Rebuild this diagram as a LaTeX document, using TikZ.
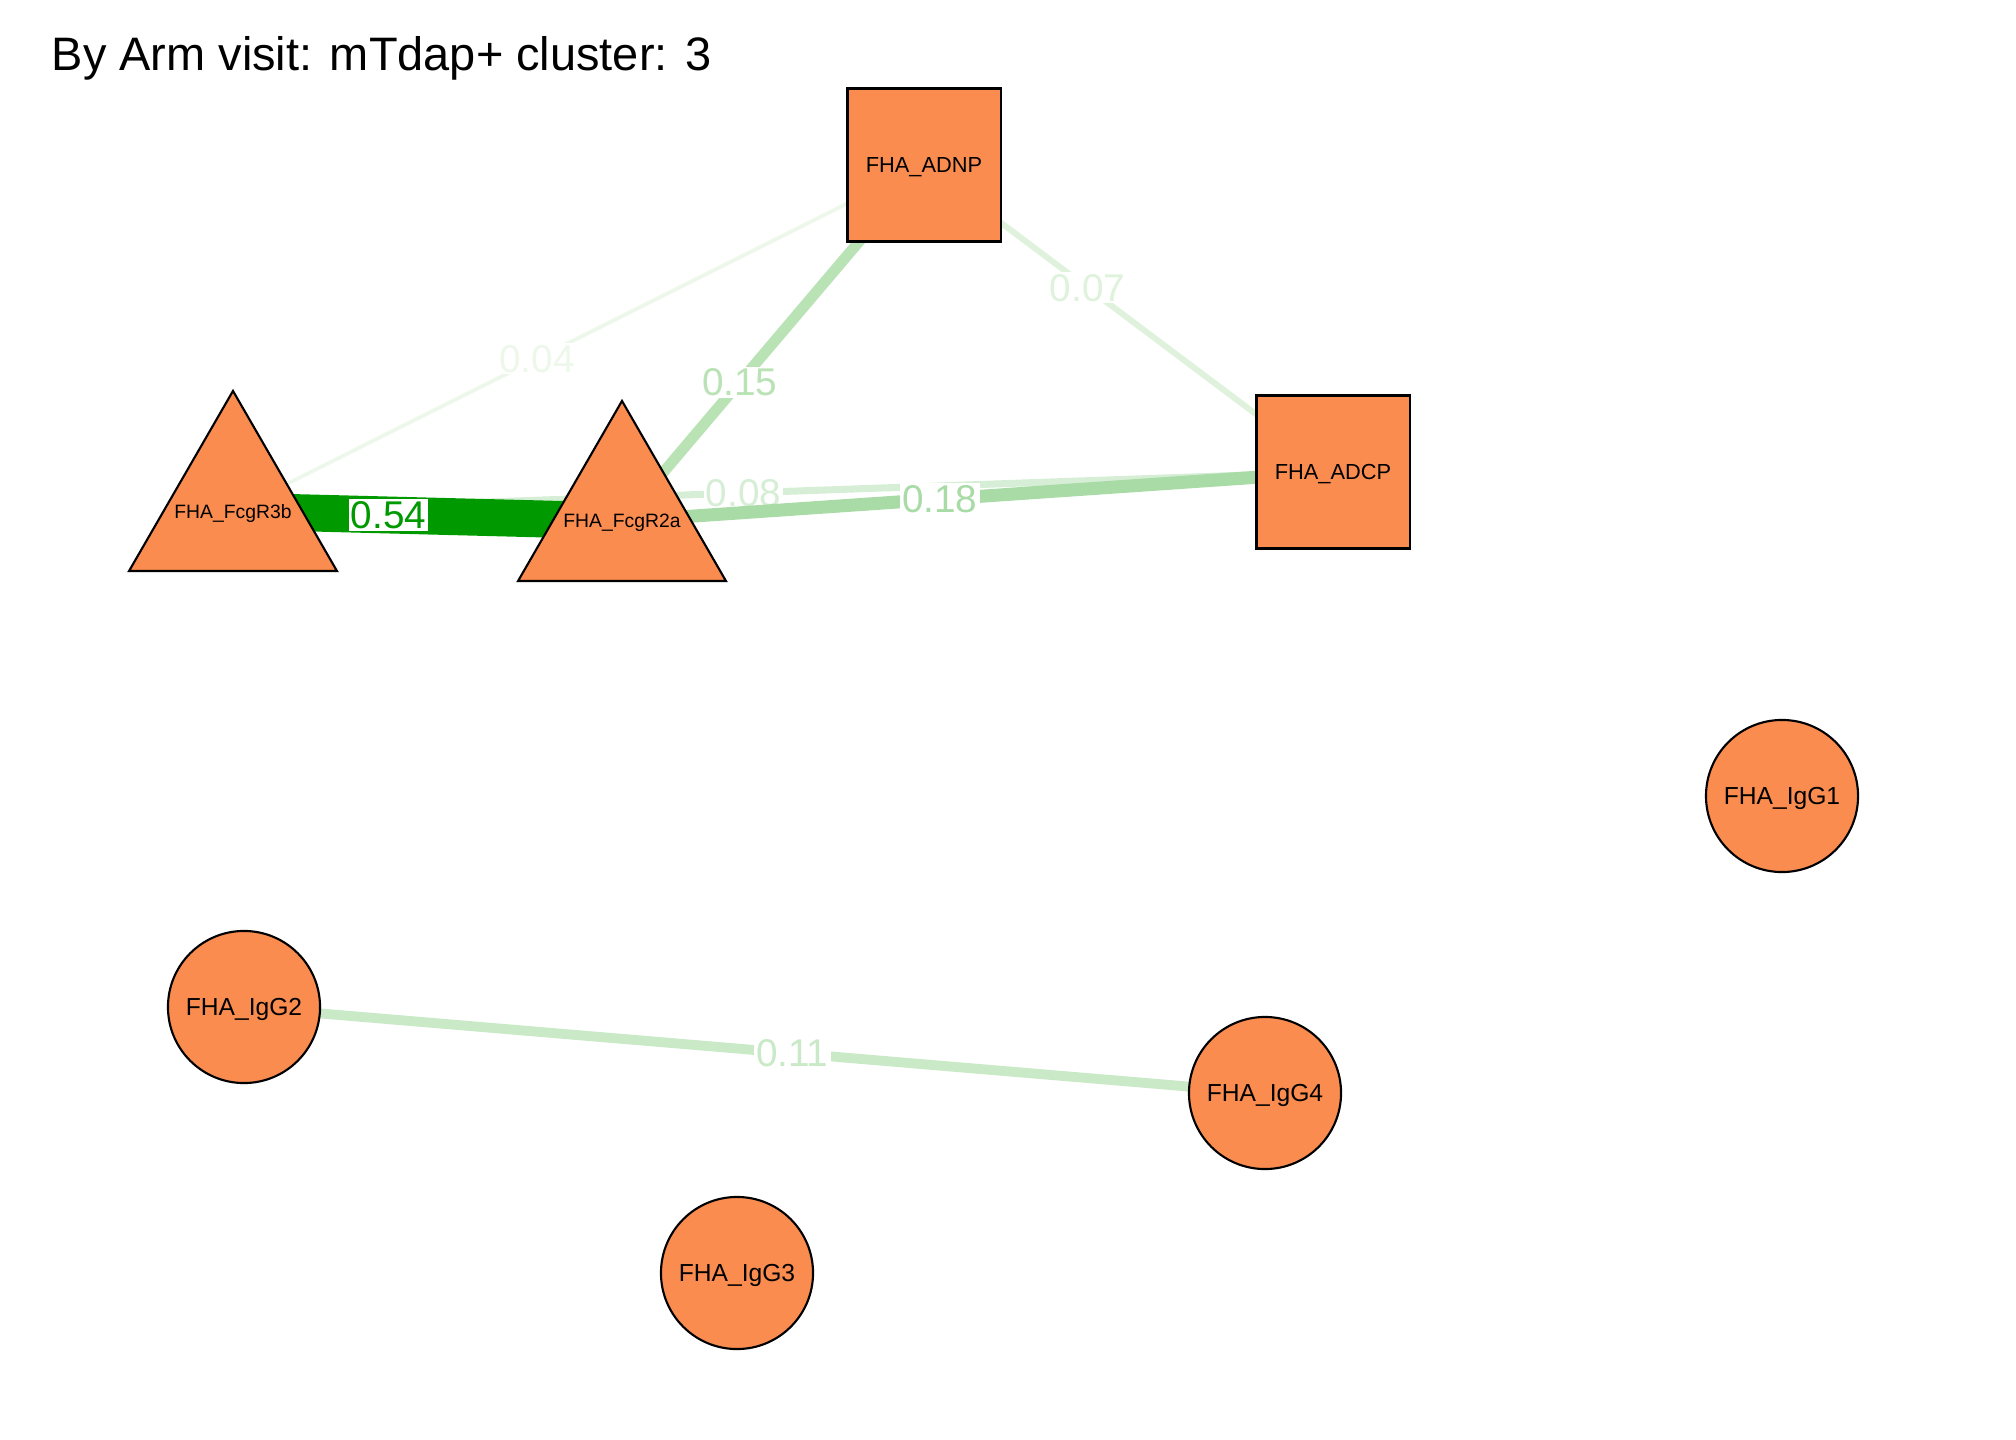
\documentclass[tikz,border=0pt]{standalone}
\usepackage{fontspec}
\setmainfont{Liberation Sans}
\usetikzlibrary{shapes,backgrounds}

\definecolor{nodefill}{RGB}{250,140,80}
\definecolor{eA}{RGB}{0,153,0}
\definecolor{eB}{RGB}{169,219,166}
\definecolor{eC}{RGB}{185,226,181}
\definecolor{eD}{RGB}{201,233,199}
\definecolor{eE}{RGB}{214,238,213}
\definecolor{eF}{RGB}{222,242,220}
\definecolor{eG}{RGB}{237,248,235}

\begin{document}
\begin{tikzpicture}
  [x=0.01cm,y=-0.01cm,
   vert/.style={draw=black,line width=0.6pt,fill=nodefill,inner sep=0pt,text depth=0pt},
   sq/.style={vert,rectangle,minimum size=1.53cm,font=\fontsize{6.2pt}{7pt}\selectfont},
   tri/.style={vert,regular polygon,regular polygon sides=3,minimum size=2.4cm,font=\fontsize{5.5pt}{6pt}\selectfont},
   rnd/.style={vert,circle,minimum size=1.52cm,font=\fontsize{7pt}{8pt}\selectfont},
   elabel/.style={fill=white,inner sep=0.6pt,text depth=0pt,font=\fontsize{11pt}{12pt}\selectfont}]
  \useasboundingbox (0,0) rectangle (2016,1440);

  \node[anchor=base west,inner sep=0pt,font=\fontsize{13.35pt}{15pt}\selectfont] (title) at (51,71) {By Arm visit: mTdap+ cluster: 3};

  \node[sq] (adnp) at (924,165) {FHA\_ADNP};
  \node[sq] (adcp) at (1333,472) {FHA\_ADCP};
  \node[tri] (r3b) at (233,511) {\makebox[0pt]{FHA\_FcgR3b}};
  \node[tri] (r2a) at (622,521) {\makebox[0pt]{FHA\_FcgR2a}};
  \node[rnd] (g1) at (1782,796) {FHA\_IgG1};
  \node[rnd] (g2) at (244,1007) {FHA\_IgG2};
  \node[rnd] (g3) at (737,1273) {FHA\_IgG3};
  \node[rnd] (g4) at (1265,1093) {FHA\_IgG4};

  \begin{pgfonlayer}{background}
   \foreach \from/\to/\lw/\col/\p/\val in {r3b/adnp/1.1pt/eG/0.44/0.04,adnp/adcp/1.7pt/eF/0.40/0.07,r3b/adcp/2pt/eE/0.464/0.08,g2/g4/2.8pt/eD/0.537/0.11,r2a/adnp/3.1pt/eC/0.39/0.15,r2a/adcp/3.7pt/eB/0.447/0.18,r3b/r2a/10.5pt/eA/0.40/0.54}
    \draw[line width=\lw,draw=\col] (\from.center) -- node[elabel,text=\col,pos=\p] {\val} (\to.center);
  \end{pgfonlayer}
\end{tikzpicture}
\end{document}
